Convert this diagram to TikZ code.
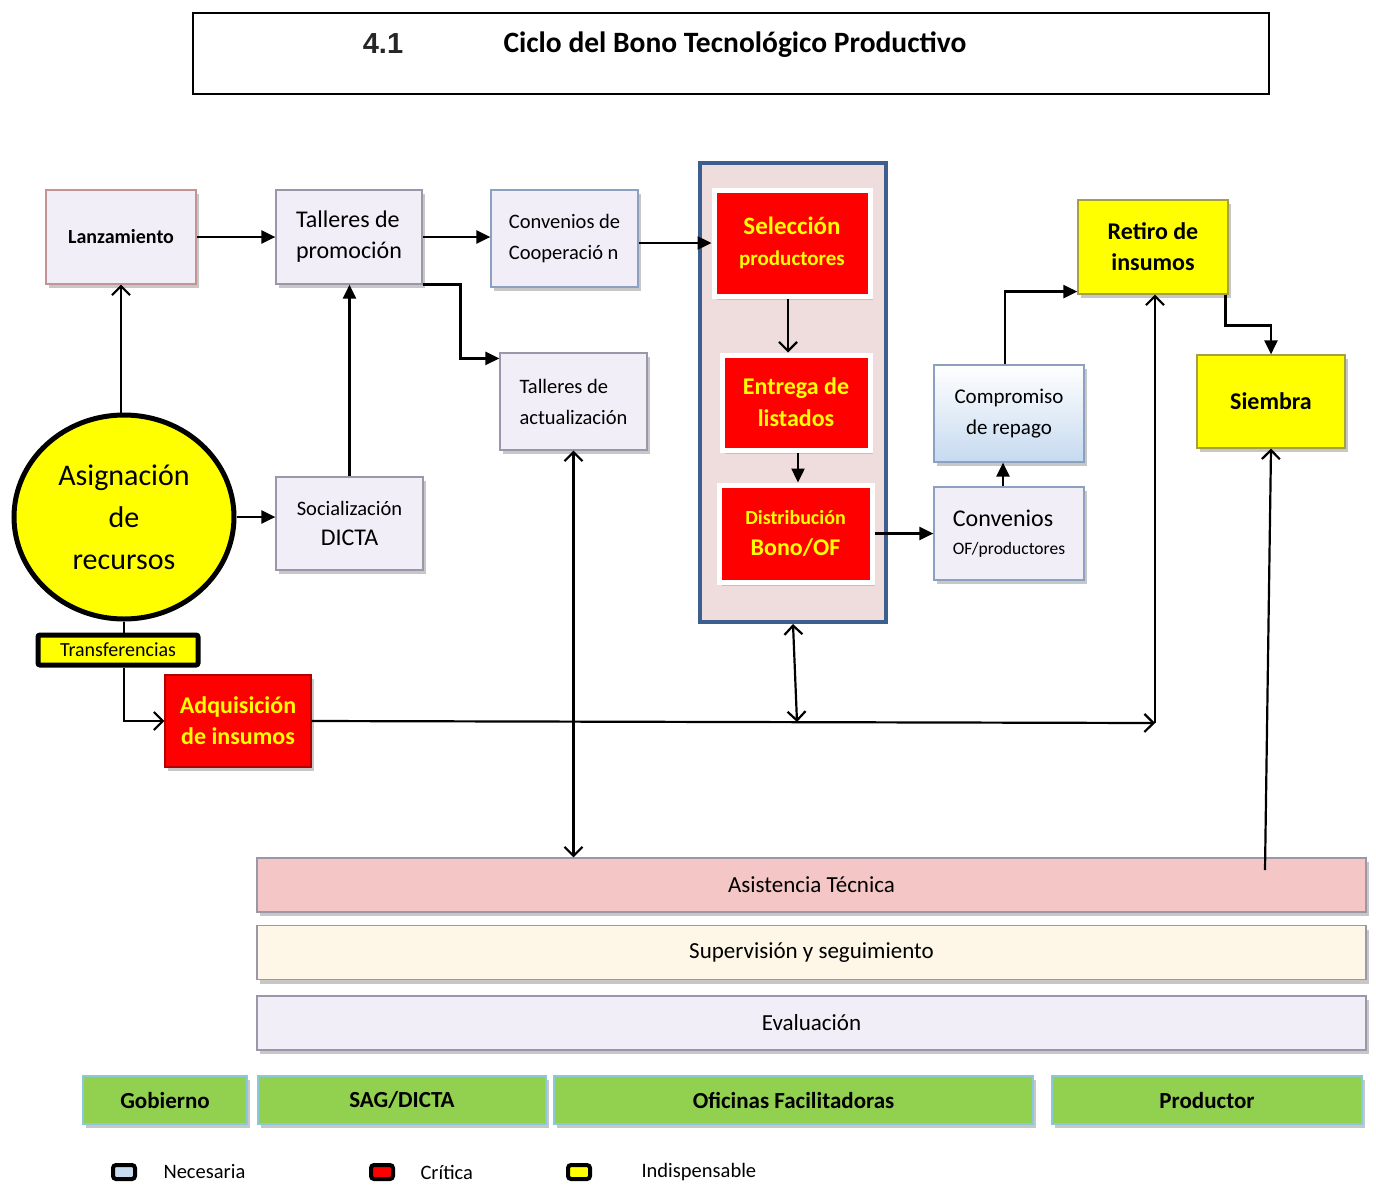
\documentclass[tikz,border=0pt]{standalone}
\usepackage{fontspec}
\setmainfont{Carlito}
\newfontfamily\arialfam{Liberation Sans}
\usepackage{tikz}
\usetikzlibrary{calc, arrows.meta, shapes.geometric, shadows}
\tikzset{>={Triangle[width=13pt,length=14pt]}}

\definecolor{lila}{HTML}{F2EEF8}
\definecolor{bordegris}{HTML}{9A98A8}
\definecolor{bordeazul}{HTML}{8CA0C0}
\definecolor{bordelanz}{HTML}{C49494}
\definecolor{azulclaro}{HTML}{C6DAF0}
\definecolor{rojo}{HTML}{FF0000}
\definecolor{amarillo}{HTML}{FFFF00}
\definecolor{rosa}{HTML}{F4C6C6}
\definecolor{crema}{HTML}{FEF6E6}
\definecolor{verde}{HTML}{92D050}
\definecolor{bordeverde}{HTML}{8CC8DC}
\definecolor{fondogrupo}{HTML}{EFDCDC}
\definecolor{azulgrupo}{HTML}{3B5F8E}

\newcommand{\tam}[2]{\fontsize{#1}{#2}\selectfont}

\tikzset{
  sombra/.style={drop shadow={shadow xshift=3pt, shadow yshift=-4pt, fill=gray!55, opacity=0.8}},
  caja/.style={rectangle, fill=lila, draw=bordegris, line width=1.2pt, sombra, align=left, inner sep=2pt},
  cajaroja/.style={rectangle, fill=rojo, draw=red!70!black, line width=1.2pt, sombra, align=center,
    text=amarillo, inner sep=2pt},
  cajaamarilla/.style={rectangle, fill=amarillo, draw=yellow!60!black, line width=1.2pt, sombra,
    align=center, inner sep=2pt},
  barra/.style={rectangle, draw=bordegris, line width=1.2pt, sombra, minimum width=1109pt,
    minimum height=54pt, font=\tam{23}{26}},
  actor/.style={rectangle, fill=verde, draw=bordeverde, line width=2pt, sombra, minimum height=48pt,
    font=\tam{23}{26}\bfseries},
  muestra/.style={rectangle, rounded corners=3pt, draw=black, line width=4pt, minimum width=22pt,
    minimum height=14pt},
  flecha/.style={->, line width=2.4pt},
  abierta/.style={-{Straight Barb[length=9pt,width=18pt]}, line width=2.2pt},
  doble/.style={{Straight Barb[length=9pt,width=18pt]}-{Straight Barb[length=9pt,width=18pt]}, line width=2.2pt}
}

\begin{document}
\begin{tikzpicture}[x=1pt, y=-1pt]
  \useasboundingbox (0,0) rectangle (1376,1184);

  \node[rectangle, draw=black, line width=2.5pt, minimum width=1076pt, minimum height=81pt] (titulo) at (731,53.5) {};
  \node[font=\arialfam\tam{29}{32}\bfseries, text=black!85] (num) at (383,44) {4.1};
  \node[anchor=west, font=\tam{29.5}{32}\bfseries] (nombre) at (500,45) {Ciclo del Bono Tecnológico Productivo};

  \node[rectangle, fill=fondogrupo, draw=azulgrupo, line width=4pt, minimum width=186pt, minimum height=459pt] (grupo) at (793,392.5) {};

  \node[caja, draw=bordelanz, align=center, minimum width=150pt, minimum height=94pt, font=\tam{20}{26}\bfseries] (lanz) at (121,237) {Lanzamiento};
  \node[caja, minimum width=146pt, minimum height=94pt, font=\tam{24}{31}] (tprom) at (349,237) {Talleres de\\promoción};
  \node[caja, draw=bordeazul, minimum width=147pt, minimum height=97pt, font=\tam{20.5}{31}] (conv) at (564.5,238.5) {Convenios de\\Cooperació n};
  \node[caja, minimum width=147pt, minimum height=97pt, font=\tam{20.5}{31}] (tact) at (573.5,401.5) {Talleres de\\actualización};
  \node[caja, align=center, minimum width=147pt, minimum height=93pt, font=\tam{20.5}{30}] (soc) at (349.5,523.5) {Socialización\\{\tam{24}{30}DICTA}};

  \node[cajaroja, draw=white, line width=5pt, minimum width=156pt, minimum height=106pt, font=\tam{21}{31}\bfseries] (sel) at (792,243) {{\tam{25}{31}Selección}\\productores};
  \node[cajaroja, draw=white, line width=5pt, minimum width=148pt, minimum height=95pt, font=\tam{24}{32}\bfseries] (entr) at (796,402.5) {Entrega de\\listados};
  \node[cajaroja, draw=white, line width=5pt, minimum width=153pt, minimum height=97pt, font=\tam{20}{31}\bfseries] (dist) at (795.5,533.5) {Distribución\\{\tam{24}{31}Bono/OF}};

  \node[caja, draw=bordeazul, top color=white, bottom color=azulclaro, align=center, minimum width=150pt, minimum height=97pt, font=\tam{21}{31}] (comp) at (1009,413.5) {Compromiso\\de repago};
  \node[caja, draw=bordeazul, minimum width=150pt, minimum height=93pt, font=\tam{24}{28}] (convof) at (1009,533.5) {Convenios\\{\tam{17.5}{28}OF/productores}};

  \node[cajaamarilla, minimum width=150pt, minimum height=94pt, font=\tam{24}{31}\bfseries] (retiro) at (1153,247) {Retiro de\\insumos};
  \node[cajaamarilla, minimum width=148pt, minimum height=93pt, font=\tam{24}{31}\bfseries] (siembra) at (1271,401.5) {Siembra};

  \node[ellipse, fill=amarillo, draw=black, line width=5pt, minimum width=220pt, minimum height=204pt, align=center, font=\tam{30}{42}] (asig) at (124,517) {Asignación\\de\\recursos};
  \node[rectangle, fill=amarillo, draw=black, line width=5pt, rounded corners=2pt, minimum width=160pt, minimum height=30pt, inner sep=0pt, font=\tam{20}{22}] (transf) at (118,650) {Transferencias};
  \node[cajaroja, minimum width=146pt, minimum height=92pt, font=\tam{24}{31}\bfseries] (adq) at (238,721) {Adquisición\\de insumos};

  \node[barra, fill=rosa] (asist) at (811.5,885) {Asistencia Técnica};
  \node[barra, fill=crema] (superv) at (811.5,952.5) {Supervisión y seguimiento};
  \node[barra, fill=lila] (evalu) at (811.5,1023) {Evaluación};

  \node[actor, minimum width=164pt] (gob) at (165,1100) {Gobierno};
  \node[actor, minimum width=288pt] (sag) at (402,1100) {SAG/DICTA};
  \node[actor, minimum width=479pt] (ofic) at (793.5,1100) {Oficinas Facilitadoras};
  \node[actor, minimum width=310pt] (prod) at (1207,1100) {Productor};

  \node[muestra, fill=azulclaro] (mnec) at (124,1172) {};
  \node[anchor=west, font=\tam{20.5}{24}] (tnec) at (160,1172) {Necesaria};
  \node[muestra, fill=rojo] (mcri) at (382,1172) {};
  \node[anchor=west, font=\tam{20.5}{24}] (tcri) at (417,1172) {Crítica};
  \node[muestra, fill=amarillo] (mind) at (579,1172) {};
  \node[anchor=west, font=\tam{20.5}{24}] (tind) at (638,1172) {Indispensable};

  \coordinate (cruce) at (1155,723);
  \coordinate (medio) at (797,722);
  \coordinate (pie) at (1265,870);

  \draw[flecha] (lanz.east) -- (tprom.west);
  \draw[flecha] (tprom.east) -- (tprom.east -| conv.west);
  \draw[flecha] (tprom.south east) -- ++(38,0) |- ($(tact.north west)+(0,6)$);
  \draw[flecha] (sel.west -| conv.east) -- (sel.west);
  \draw[abierta] ($(sel.south)+(-4,0)$) -- ($(sel.south |- entr.north)+(-4,0)$);
  \draw[flecha] ($(entr.south)+(2,0)$) -- ($(entr.south |- dist.north)+(2,0)$);
  \draw[flecha] (dist.east) -- (convof.west);
  \draw[flecha] ($(convof.north)+(-6,0)$) -- ($(comp.south)+(-6,0)$);
  \draw[flecha] ($(comp.north)+(-4,0)$) |- ($(retiro.south west)+(0,-3)$);
  \draw[flecha] ($(retiro.south east)+(-3,0)$) -- ++(0,31) -| (siembra.north);
  \draw[abierta] (asig.north -| lanz.south) -- (lanz.south);
  \draw[flecha] (soc.north) -- (soc.north |- tprom.south);
  \draw[flecha] (asig.east) -- (asig.east -| soc.west);
  \draw[line width=2.2pt] (asig.south) -- (asig.south |- transf.north);
  \draw[abierta] (asig.south |- transf.south) |- (adq.west);
  \draw[abierta] (adq.east) -- (cruce);
  \draw[abierta] (cruce) -- (cruce |- retiro.south);
  \draw[doble] (medio) -- (grupo.south);
  \draw[doble] (tact.south) -- (tact.south |- asist.north);
  \draw[abierta] (pie) -- (siembra.south);
\end{tikzpicture}
\end{document}
